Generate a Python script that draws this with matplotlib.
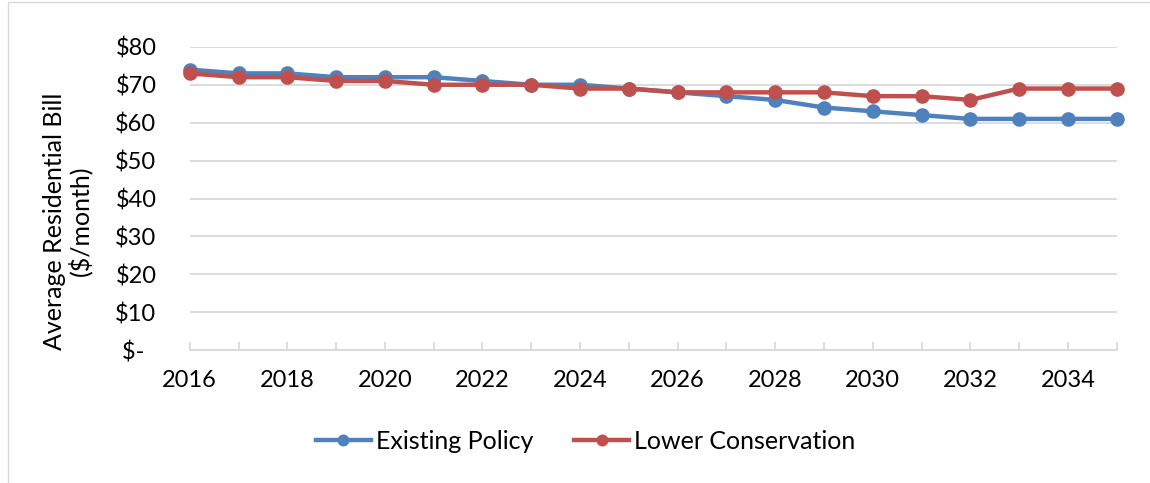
import matplotlib.pyplot as plt
from matplotlib.patches import Rectangle
from matplotlib.ticker import FuncFormatter

years = list(range(2016, 2036))
existing = [74, 73, 73, 72, 72, 72, 71, 70, 70, 69, 68, 67, 66, 64, 63, 62, 61, 61, 61, 61]
lower = [73, 72, 72, 71, 71, 70, 70, 70, 69, 69, 68, 68, 68, 68, 67, 67, 66, 69, 69, 69]
yticks = [0, 10, 20, 30, 40, 50, 60, 70, 80]

plt.rcParams['font.family'] = ['Lato', 'DejaVu Sans']

fig = plt.figure(figsize=(11.5, 4.83), dpi=100)
ax = fig.add_axes([0.165, 0.275, 0.806, 0.628])

# border around the chart like the excel frame
fig.patches.append(Rectangle((0.007, -0.1), 1.1, 1.095, transform=fig.transFigure,
                             fill=False, edgecolor='#d9d9d9', linewidth=1))

ax.plot(years, existing, color='#4f81bd', lw=3.2, marker='o', ms=9.5, label='Existing Policy',
        zorder=3, clip_on=False)
ax.plot(years, lower, color='#c0504d', lw=3.2, marker='o', ms=9.5, label='Lower Conservation',
        zorder=4, clip_on=False)

ax.set_ylim(0, 80)
ax.set_xlim(2016, 2035)
ax.set_yticks(yticks)
# accounting style: zero shows as "$-" set in from the right
ax.yaxis.set_major_formatter(FuncFormatter(lambda v, p: '$-\u00a0\u00a0' if v == 0 else f'${int(v)}'))
ax.set_xticks(years)
ax.set_xticklabels([str(y) if y % 2 == 0 else '' for y in years])
ax.grid(axis='y', color='#d9d9d9', lw=1.3)
ax.set_axisbelow(True)
for s in ['top', 'right', 'left']:
    ax.spines[s].set_visible(False)
ax.spines['bottom'].set_color('#d9d9d9')
ax.spines['bottom'].set_linewidth(1.3)
ax.tick_params(axis='y', length=0, labelsize=17, pad=24)
ax.tick_params(axis='x', length=6, color='#d9d9d9', width=1.3, direction='in', labelsize=17, pad=14)
ax.set_ylabel('Average Residential Bill\n($/month)', fontsize=18, linespacing=1.05, va='center')
ax.yaxis.set_label_coords(-0.132, 0.426)

ax.legend(loc='center', bbox_to_anchor=(0.427, -0.30), ncol=2, frameon=False, fontsize=18,
          handlelength=2.2, columnspacing=1.65, handletextpad=0.2, markerscale=0.8)

fig.savefig('out.png', dpi=100)
